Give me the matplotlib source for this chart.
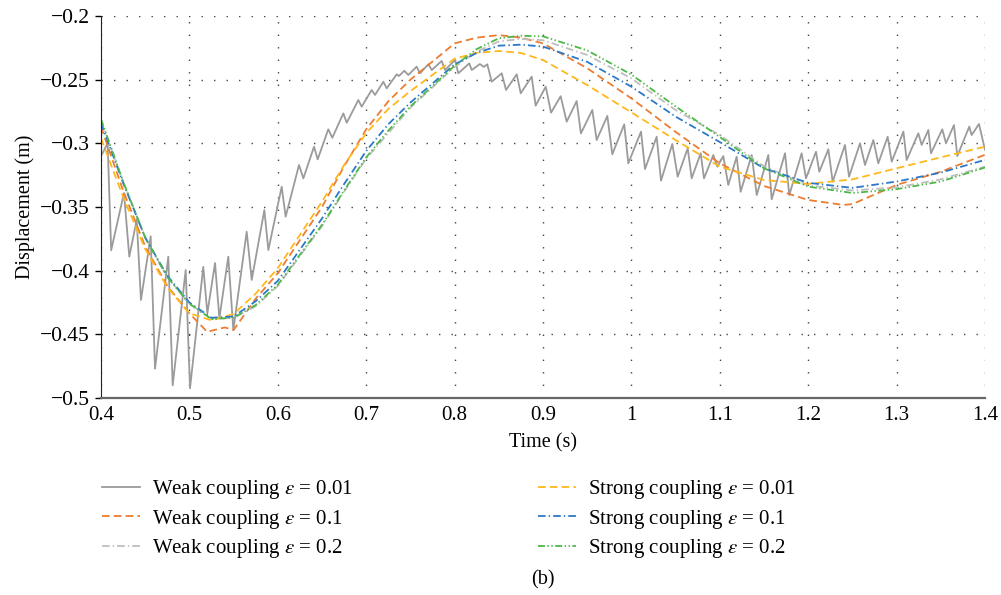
import matplotlib
matplotlib.use("Agg")
import matplotlib.pyplot as plt

# ── Data ──────────────────────────────────────────────────────────────────────
# Weak coupling, eps = 0.01 : oscillating response (peaks / troughs)
weak001_t = [0.4000, 0.4075, 0.4115, 0.4260, 0.4320, 0.4404, 0.4452, 0.4562,
             0.4611, 0.4761, 0.4811, 0.4958, 0.5007, 0.5157, 0.5203, 0.5290,
             0.5339, 0.5440, 0.5497, 0.5648, 0.5705, 0.5848, 0.5893, 0.6044,
             0.6089, 0.6240, 0.6289, 0.6410, 0.6451, 0.6571, 0.6617, 0.6741,
             0.6780, 0.6911, 0.6949, 0.7062, 0.7100, 0.7194, 0.7232, 0.7345,
             0.7371, 0.7431, 0.7476, 0.7571, 0.7609, 0.7703, 0.7742, 0.7854,
             0.7891, 0.8005, 0.8042, 0.8166, 0.8194, 0.8287, 0.8330, 0.8370,
             0.8420, 0.8533, 0.8582, 0.8703, 0.8748, 0.8872, 0.8917, 0.9031,
             0.9091, 0.9200, 0.9268, 0.9381, 0.9429, 0.9558, 0.9607, 0.9728,
             0.9784, 0.9919, 0.9965, 1.0109, 1.0154, 1.0286, 1.0335, 1.0463,
             1.0524, 1.0637, 1.0682, 1.0784, 1.0821, 1.0927, 1.0972, 1.1040,
             1.1096, 1.1191, 1.1236, 1.1361, 1.1418, 1.1549, 1.1587, 1.1738,
             1.1786, 1.1926, 1.1975, 1.2088, 1.2126, 1.2228, 1.2277, 1.2416,
             1.2462, 1.2586, 1.2643, 1.2737, 1.2793, 1.2899, 1.2945, 1.3077,
             1.3114, 1.3246, 1.3284, 1.3359, 1.3389, 1.3517, 1.3559, 1.3649,
             1.3687, 1.3822, 1.3849, 1.3932, 1.4000]
weak001_y = [-0.310, -0.300, -0.384, -0.339, -0.389, -0.360, -0.423, -0.373,
             -0.477, -0.389, -0.490, -0.3995, -0.4924, -0.397, -0.4335, -0.394,
             -0.4374, -0.389, -0.4466, -0.3694, -0.4073, -0.3524, -0.3838, -0.3341,
             -0.3576, -0.317, -0.3275, -0.3026, -0.3126, -0.289, -0.2956, -0.2765,
             -0.2838, -0.266, -0.2712, -0.2581, -0.262, -0.2516, -0.2568, -0.2458,
             -0.2471, -0.243, -0.2463, -0.2398, -0.245, -0.2379, -0.2424, -0.2353,
             -0.2424, -0.2346, -0.245, -0.2372, -0.2424, -0.2377, -0.2400, -0.2379,
             -0.2516, -0.245, -0.2581, -0.2458, -0.2607, -0.2476, -0.2704, -0.2555,
             -0.2759, -0.2630, -0.283, -0.2668, -0.2922, -0.2738, -0.2974, -0.2785,
             -0.3086, -0.2851, -0.3157, -0.2908, -0.3202, -0.2948, -0.3293, -0.3005,
             -0.3262, -0.3039, -0.3275, -0.3078, -0.3275, -0.3092, -0.3183, -0.3100,
             -0.3327, -0.3105, -0.3380, -0.3092, -0.3406, -0.3092, -0.3440, -0.3078,
             -0.3406, -0.3078, -0.3275, -0.3066, -0.3223, -0.3047, -0.3301, -0.3013,
             -0.3262, -0.3000, -0.3170, -0.2974, -0.3157, -0.2948, -0.3144, -0.2908,
             -0.3131, -0.2921, -0.3013, -0.2895, -0.3078, -0.2890, -0.3000, -0.2856,
             -0.3100, -0.2869, -0.2935, -0.2848, -0.3050]

# Smooth responses share a common time grid
t_smooth = [0.40, 0.425, 0.45, 0.475, 0.50, 0.525, 0.55, 0.575, 0.60, 0.65,
            0.675, 0.70, 0.725, 0.75, 0.80, 0.825, 0.85, 0.875, 0.90, 0.95,
            1.00, 1.05, 1.10, 1.15, 1.20, 1.25, 1.30, 1.35, 1.40]
weak02_y = [-0.282, -0.330, -0.374, -0.405, -0.426, -0.438, -0.437, -0.428, -0.412, -0.365,
            -0.338, -0.312, -0.292, -0.272, -0.240, -0.228, -0.220, -0.218, -0.219, -0.2306,
            -0.249, -0.2738, -0.2935, -0.318, -0.333, -0.337, -0.3346, -0.3283, -0.3183]
strong001_y = [-0.296, -0.342, -0.383, -0.413, -0.4335, -0.439, -0.434, -0.418, -0.398, -0.3458,
               -0.317, -0.292, -0.273, -0.259, -0.2335, -0.229, -0.2275, -0.229, -0.2346, -0.2542,
               -0.2757, -0.2974, -0.3183, -0.3288, -0.3319, -0.3283, -0.3196, -0.311, -0.3026]
strong01_y = [-0.284, -0.331, -0.374, -0.404, -0.425, -0.437, -0.436, -0.424, -0.408, -0.359,
              -0.332, -0.306, -0.285, -0.268, -0.238, -0.229, -0.2233, -0.2225, -0.224, -0.236,
              -0.2555, -0.279, -0.299, -0.3196, -0.331, -0.335, -0.330, -0.323, -0.313]
strong02_y = [-0.281, -0.330, -0.374, -0.405, -0.426, -0.438, -0.437, -0.427, -0.411, -0.364,
              -0.337, -0.311, -0.290, -0.271, -0.239, -0.226, -0.2175, -0.2155, -0.216, -0.227,
              -0.246, -0.271, -0.295, -0.3196, -0.334, -0.339, -0.336, -0.330, -0.319]

# Weak coupling eps = 0.1 has a flat-bottomed trough, so its own grid
weak01_t = [0.40, 0.425, 0.45, 0.475, 0.50, 0.52, 0.54, 0.55, 0.575, 0.60,
            0.65, 0.675, 0.70, 0.725, 0.75, 0.80, 0.825, 0.85, 0.875, 0.90,
            0.95, 1.00, 1.05, 1.10, 1.15, 1.20, 1.24, 1.25, 1.30, 1.35, 1.40]
weak01_y = [-0.287, -0.337, -0.381, -0.412, -0.4335, -0.448, -0.4446, -0.4466, -0.422, -0.402,
            -0.350, -0.318, -0.289, -0.267, -0.250, -0.2215, -0.217, -0.215, -0.217, -0.2215,
            -0.241, -0.2647, -0.291, -0.3157, -0.3335, -0.3445, -0.3484, -0.3477, -0.3327, -0.3223, -0.309]

x_ticks = [0.4, 0.5, 0.6, 0.7, 0.8, 0.9, 1.0, 1.1, 1.2, 1.3, 1.4]
x_labels = ["0.4", "0.5", "0.6", "0.7", "0.8", "0.9", "1", "1.1", "1.2", "1.3", "1.4"]
y_ticks = [-0.5, -0.45, -0.4, -0.35, -0.3, -0.25, -0.2]
y_labels = ["\u22120.5", "\u22120.45", "\u22120.4", "\u22120.35", "\u22120.3", "\u22120.25", "\u22120.2"]

# ── Style ─────────────────────────────────────────────────────────────────────
plt.rcParams["font.family"] = ["Liberation Serif", "DejaVu Serif"]
plt.rcParams["mathtext.fontset"] = "stix"
plt.rcParams["lines.scale_dashes"] = False

fig = plt.figure(figsize=(10.01, 5.95), dpi=100)
ax = fig.add_axes([0.1009, 0.3311, 0.8831, 0.6420])

ax.plot(weak001_t, weak001_y, color="#9b9b9b", lw=1.3, ls="-",
        label=r"Weak coupling $\varepsilon$ = 0.01")
ax.plot(weak01_t, weak01_y, color="#ED7D31", lw=1.3, ls=(0, (5.5, 3.0)),
        label=r"Weak coupling $\varepsilon$ = 0.1")
ax.plot(t_smooth, weak02_y, color="#BEBEBE", lw=1.3, ls=(0, (5.5, 2.2, 1.0, 2.2)),
        label=r"Weak coupling $\varepsilon$ = 0.2")
ax.plot(t_smooth, strong001_y, color="#FFB81C", lw=1.3, ls=(0, (5.5, 3.0)),
        label=r"Strong coupling $\varepsilon$ = 0.01")
ax.plot(t_smooth, strong01_y, color="#2C78C8", lw=1.3, ls=(0, (5.5, 2.2, 1.0, 2.2)),
        label=r"Strong coupling $\varepsilon$ = 0.1")
ax.plot(t_smooth, strong02_y, color="#4DB848", lw=1.3, ls=(0, (5.0, 1.8, 1.0, 1.8, 1.0, 1.8)),
        label=r"Strong coupling $\varepsilon$ = 0.2")

ax.set_xlim(0.4, 1.4)
ax.set_ylim(-0.5, -0.2)
ax.set_xticks(x_ticks)
ax.set_xticklabels(x_labels)
ax.set_yticks(y_ticks)
ax.set_yticklabels(y_labels)
ax.tick_params(axis="x", length=0, pad=6, labelsize=15)
ax.tick_params(axis="y", length=4, width=1, direction="out", pad=4, labelsize=15.5)

ax.grid(True, color="#444444", lw=1.0, ls=(0, (1.0, 8.0)))
ax.set_axisbelow(True)
for s in ["top", "right"]:
    ax.spines[s].set_visible(False)
ax.spines["left"].set_color("#222222")
ax.spines["bottom"].set_color("#666666")
ax.spines["bottom"].set_linewidth(1.6)

ax.set_xlabel("Time (s)", fontsize=14.5, labelpad=6)
ax.set_ylabel("Displacement (m)", fontsize=14.5, labelpad=4)

handles, labels = ax.get_legend_handles_labels()
fig.legend(handles, labels, ncol=2, loc="upper left", bbox_to_anchor=(0.102, 0.196),
           frameon=False, fontsize=15, handlelength=1.8, handletextpad=0.6,
           columnspacing=8.9, labelspacing=0.3, borderpad=0, borderaxespad=0)

fig.text(0.5425, 0.025, "(b)", ha="center", va="center", fontsize=14.5)

fig.savefig("out.png", dpi=100)
